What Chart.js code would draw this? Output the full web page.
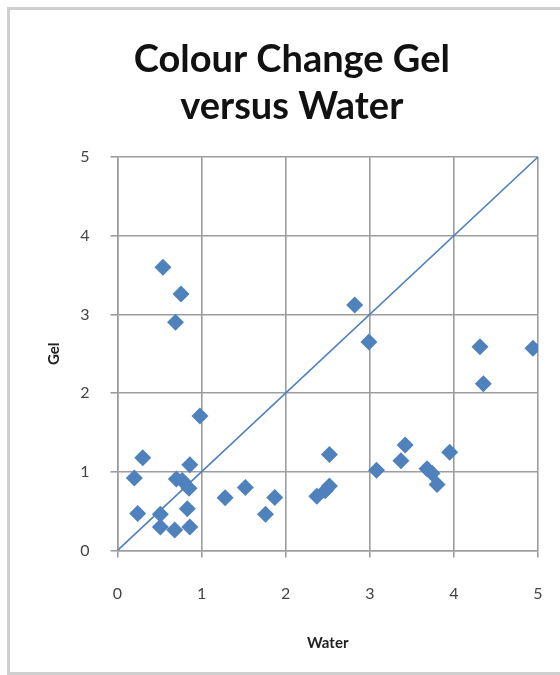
<!DOCTYPE html>
<html>
<head>
<meta charset="utf-8">
<script src="https://cdn.jsdelivr.net/npm/chart.js@4"></script>
<style>
	html, body { margin: 0; padding: 0; background: #fff; }
	#wrap { width: 560px; height: 675px; }
</style>
</head>
<body>
<div id="wrap"><canvas id="chart-gel"></canvas></div>
<script>
// measured colour change, water vs gel
const waterValues = [0.54, 0.755, 0.69, 0.98, 0.30, 0.20, 0.86, 0.70, 0.77, 0.85, 0.24, 0.51, 0.51, 0.68, 0.83, 0.86,
	1.28, 1.52, 1.87, 1.76, 2.37, 2.47, 2.52, 2.52, 2.82, 2.99, 3.08, 3.37, 3.42, 3.68, 3.74, 3.80, 3.95, 4.31, 4.35, 4.94];
const gelValues = [3.60, 3.26, 2.90, 1.71, 1.18, 0.92, 1.09, 0.91, 0.89, 0.79, 0.47, 0.46, 0.30, 0.26, 0.53, 0.30,
	0.67, 0.80, 0.675, 0.46, 0.69, 0.76, 0.82, 1.22, 3.12, 2.65, 1.02, 1.14, 1.34, 1.04, 0.98, 0.84, 1.25, 2.59, 2.12, 2.57];

// y = x reference line
const equalLineX = [0, 5];
const equalLineY = [0, 5];

const axisMin = 0;
const axisMax = 5;
const axisStep = 1;

const blue = '#4f81bd';
const gridGrey = '#9d9d9d';

const framePlugin = {
	id: 'frame',
	beforeDraw(chart) {
		const ctx = chart.ctx;
		ctx.save();
		ctx.fillStyle = '#fff';
		ctx.fillRect(0, 0, chart.width, chart.height);
		ctx.strokeStyle = '#cfcfcf';
		ctx.lineWidth = 3;
		ctx.strokeRect(8.5, 8.5, chart.width + 20, chart.height - 10);
		ctx.restore();
	}
};

const points = waterValues.map((w, i) => ({ x: w, y: gelValues[i] }));
const lineData = equalLineX.map((x, i) => ({ x: x, y: equalLineY[i] }));

new Chart(document.getElementById('chart-gel'), {
	type: 'scatter',
	data: {
		datasets: [
			{
				label: 'Gel',
				data: points,
				pointStyle: 'rectRot',
				pointRadius: 8.5,
				pointHoverRadius: 8.5,
				backgroundColor: blue,
				borderColor: blue,
				borderWidth: 0,
				order: 0
			},
			{
				type: 'line',
				label: 'Equal',
				data: lineData,
				borderColor: blue,
				borderWidth: 1.6,
				pointRadius: 0,
				fill: false,
				order: 1
			}
		]
	},
	options: {
		responsive: true,
		maintainAspectRatio: false,
		animation: false,
		layout: { padding: { top: 0, left: 45.6, right: 22, bottom: 23 } },
		plugins: {
			legend: { display: false },
			tooltip: { enabled: false },
			title: {
				display: true,
				text: ['Colour Change Gel', 'versus Water'],
				color: '#111',
				font: { family: 'Lato', size: 38, weight: 'bold', lineHeight: 47 / 38 },
				padding: { top: 36, bottom: 27 }
			}
		},
		scales: {
			x: {
				type: 'linear',
				min: axisMin,
				max: axisMax,
				afterFit(scale) {
					scale.height = 101.5;
					// edge labels fit inside the layout padding already
					scale.paddingLeft = 0;
					scale.paddingRight = 0;
				},
				ticks: {
					stepSize: axisStep,
					color: '#444',
					padding: 27,
					font: { family: 'Lato', size: 16 }
				},
				grid: { color: gridGrey, lineWidth: 1.6, tickLength: 7 },
				border: { color: gridGrey, width: 1.6 },
				title: {
					display: true,
					text: 'Water',
					color: '#222',
					padding: 0,
					font: { family: 'Lato', size: 15, weight: 'bold' }
				}
			},
			y: {
				type: 'linear',
				min: axisMin,
				max: axisMax,
				afterFit(scale) {
					scale.width = 71.9;
					scale.paddingTop = 0;
					scale.paddingBottom = 0;
				},
				ticks: {
					stepSize: axisStep,
					color: '#444',
					padding: 21,
					font: { family: 'Lato', size: 16 }
				},
				grid: { color: gridGrey, lineWidth: 1.6, tickLength: 7 },
				border: { color: gridGrey, width: 1.6 },
				title: {
					display: true,
					text: 'Gel',
					color: '#222',
					padding: 0,
					font: { family: 'Lato', size: 15, weight: 'bold' }
				}
			}
		}
	},
	plugins: [framePlugin]
});
</script>
</body>
</html>
